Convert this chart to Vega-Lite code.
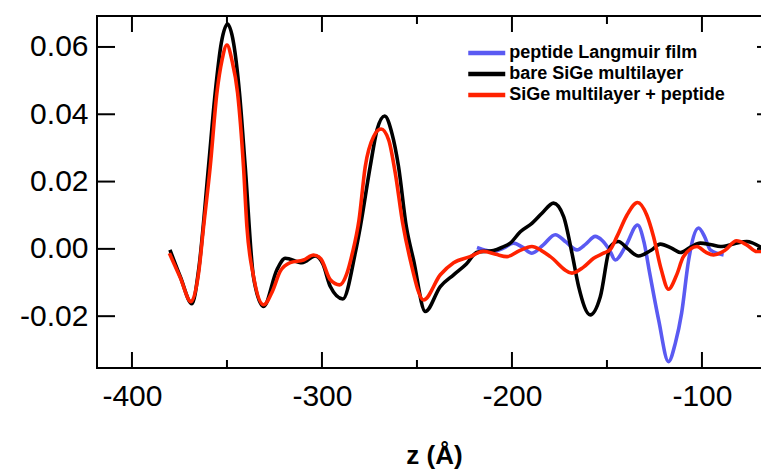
{
  "$schema": "https://vega.github.io/schema/vega-lite/v6.json",
  "width": 678,
  "height": 352,
  "autosize": "none",
  "padding": {"left": 97, "top": 16, "right": 0, "bottom": 103},
  "background": "white",
  "config": {
    "view": {"stroke": "black", "strokeWidth": 2},
    "axis": {"domain": false, "grid": false, "ticks": false, "tickSize": 0, "labelFont": "Liberation Sans", "labelFontSize": 30, "labelColor": "black", "titleFont": "Liberation Sans", "titleColor": "black"}
  },
  "datasets": {
    "curves": [
    {"s": "peptide Langmuir film", "z": -218.4, "v": 0.0004},
    {"s": "peptide Langmuir film", "z": -214, "v": -0.0004},
    {"s": "peptide Langmuir film", "z": -209.7, "v": -0.0008},
    {"s": "peptide Langmuir film", "z": -204.5, "v": 0.0002},
    {"s": "peptide Langmuir film", "z": -199.2, "v": 0.0017},
    {"s": "peptide Langmuir film", "z": -194.5, "v": 0.0005},
    {"s": "peptide Langmuir film", "z": -189.5, "v": -0.0013},
    {"s": "peptide Langmuir film", "z": -183.5, "v": 0.0012},
    {"s": "peptide Langmuir film", "z": -177.2, "v": 0.0042},
    {"s": "peptide Langmuir film", "z": -171.5, "v": 0.002},
    {"s": "peptide Langmuir film", "z": -165.8, "v": -0.0003},
    {"s": "peptide Langmuir film", "z": -161, "v": 0.0015},
    {"s": "peptide Langmuir film", "z": -156.2, "v": 0.0037},
    {"s": "peptide Langmuir film", "z": -152.5, "v": 0.0025},
    {"s": "peptide Langmuir film", "z": -148.7, "v": -0.0003},
    {"s": "peptide Langmuir film", "z": -145.6, "v": -0.0033},
    {"s": "peptide Langmuir film", "z": -140, "v": 0.001},
    {"s": "peptide Langmuir film", "z": -133.9, "v": 0.0071},
    {"s": "peptide Langmuir film", "z": -130.5, "v": 0.002},
    {"s": "peptide Langmuir film", "z": -127.5, "v": -0.0072},
    {"s": "peptide Langmuir film", "z": -122.8, "v": -0.0211},
    {"s": "peptide Langmuir film", "z": -117.6, "v": -0.0335},
    {"s": "peptide Langmuir film", "z": -114, "v": -0.028},
    {"s": "peptide Langmuir film", "z": -110.7, "v": -0.0191},
    {"s": "peptide Langmuir film", "z": -107, "v": -0.0033},
    {"s": "peptide Langmuir film", "z": -101.8, "v": 0.0062},
    {"s": "peptide Langmuir film", "z": -98.5, "v": 0.0035},
    {"s": "peptide Langmuir film", "z": -95.6, "v": -0.0003},
    {"s": "peptide Langmuir film", "z": -88.6, "v": -0.0018},

    {"s": "bare SiGe multilayer", "z": -380, "v": -0.0003},
    {"s": "bare SiGe multilayer", "z": -374.6, "v": -0.0082},
    {"s": "bare SiGe multilayer", "z": -368.4, "v": -0.0163},
    {"s": "bare SiGe multilayer", "z": -364.9, "v": -0.0062},
    {"s": "bare SiGe multilayer", "z": -359.7, "v": 0.0245},
    {"s": "bare SiGe multilayer", "z": -356.2, "v": 0.0463},
    {"s": "bare SiGe multilayer", "z": -353, "v": 0.0611},
    {"s": "bare SiGe multilayer", "z": -349.7, "v": 0.0668},
    {"s": "bare SiGe multilayer", "z": -346.5, "v": 0.0611},
    {"s": "bare SiGe multilayer", "z": -343.4, "v": 0.0463},
    {"s": "bare SiGe multilayer", "z": -340.4, "v": 0.0245},
    {"s": "bare SiGe multilayer", "z": -336, "v": -0.0085},
    {"s": "bare SiGe multilayer", "z": -330.7, "v": -0.0171},
    {"s": "bare SiGe multilayer", "z": -323.7, "v": -0.0062},
    {"s": "bare SiGe multilayer", "z": -319.3, "v": -0.0028},
    {"s": "bare SiGe multilayer", "z": -310.5, "v": -0.0041},
    {"s": "bare SiGe multilayer", "z": -303.5, "v": -0.0021},
    {"s": "bare SiGe multilayer", "z": -299.5, "v": -0.0045},
    {"s": "bare SiGe multilayer", "z": -295.6, "v": -0.0112},
    {"s": "bare SiGe multilayer", "z": -289, "v": -0.0149},
    {"s": "bare SiGe multilayer", "z": -282.5, "v": -0.0013},
    {"s": "bare SiGe multilayer", "z": -279.8, "v": 0.0066},
    {"s": "bare SiGe multilayer", "z": -274.6, "v": 0.0245},
    {"s": "bare SiGe multilayer", "z": -271, "v": 0.0354},
    {"s": "bare SiGe multilayer", "z": -267, "v": 0.0395},
    {"s": "bare SiGe multilayer", "z": -263.2, "v": 0.0344},
    {"s": "bare SiGe multilayer", "z": -259.7, "v": 0.0245},
    {"s": "bare SiGe multilayer", "z": -255.6, "v": 0.0066},
    {"s": "bare SiGe multilayer", "z": -251.8, "v": -0.0033},
    {"s": "bare SiGe multilayer", "z": -245.6, "v": -0.0186},
    {"s": "bare SiGe multilayer", "z": -237.7, "v": -0.0112},
    {"s": "bare SiGe multilayer", "z": -230.7, "v": -0.0077},
    {"s": "bare SiGe multilayer", "z": -224, "v": -0.0045},
    {"s": "bare SiGe multilayer", "z": -218.4, "v": -0.001},
    {"s": "bare SiGe multilayer", "z": -209.7, "v": -0.0005},
    {"s": "bare SiGe multilayer", "z": -205, "v": 0.0005},
    {"s": "bare SiGe multilayer", "z": -200.9, "v": 0.0017},
    {"s": "bare SiGe multilayer", "z": -195.6, "v": 0.0051},
    {"s": "bare SiGe multilayer", "z": -189.5, "v": 0.0076},
    {"s": "bare SiGe multilayer", "z": -184.2, "v": 0.0106},
    {"s": "bare SiGe multilayer", "z": -178.1, "v": 0.0136},
    {"s": "bare SiGe multilayer", "z": -172.8, "v": 0.0096},
    {"s": "bare SiGe multilayer", "z": -168.4, "v": -0.0013},
    {"s": "bare SiGe multilayer", "z": -164.9, "v": -0.0112},
    {"s": "bare SiGe multilayer", "z": -158.8, "v": -0.0196},
    {"s": "bare SiGe multilayer", "z": -153.5, "v": -0.0142},
    {"s": "bare SiGe multilayer", "z": -148.2, "v": 0.0007},
    {"s": "bare SiGe multilayer", "z": -144, "v": 0.0022},
    {"s": "bare SiGe multilayer", "z": -139, "v": 0.0},
    {"s": "bare SiGe multilayer", "z": -133.4, "v": -0.0021},
    {"s": "bare SiGe multilayer", "z": -127, "v": -0.0005},
    {"s": "bare SiGe multilayer", "z": -121.9, "v": 0.0014},
    {"s": "bare SiGe multilayer", "z": -116, "v": 0.0002},
    {"s": "bare SiGe multilayer", "z": -111.4, "v": -0.0011},
    {"s": "bare SiGe multilayer", "z": -106, "v": 0.0005},
    {"s": "bare SiGe multilayer", "z": -100.9, "v": 0.0017},
    {"s": "bare SiGe multilayer", "z": -95, "v": 0.0012},
    {"s": "bare SiGe multilayer", "z": -90.3, "v": 0.0007},
    {"s": "bare SiGe multilayer", "z": -83, "v": 0.0015},
    {"s": "bare SiGe multilayer", "z": -76.4, "v": 0.0022},
    {"s": "bare SiGe multilayer", "z": -68.3, "v": 0.0002},

    {"s": "SiGe multilayer + peptide", "z": -380.3, "v": -0.0013},
    {"s": "SiGe multilayer + peptide", "z": -374.6, "v": -0.0085},
    {"s": "SiGe multilayer + peptide", "z": -368.9, "v": -0.0157},
    {"s": "SiGe multilayer + peptide", "z": -365, "v": -0.0075},
    {"s": "SiGe multilayer + peptide", "z": -362.3, "v": 0.0066},
    {"s": "SiGe multilayer + peptide", "z": -358.8, "v": 0.0245},
    {"s": "SiGe multilayer + peptide", "z": -355.3, "v": 0.0463},
    {"s": "SiGe multilayer + peptide", "z": -352.6, "v": 0.0561},
    {"s": "SiGe multilayer + peptide", "z": -350, "v": 0.0606},
    {"s": "SiGe multilayer + peptide", "z": -347.4, "v": 0.0561},
    {"s": "SiGe multilayer + peptide", "z": -344.4, "v": 0.0463},
    {"s": "SiGe multilayer + peptide", "z": -341.3, "v": 0.0245},
    {"s": "SiGe multilayer + peptide", "z": -339.5, "v": 0.0066},
    {"s": "SiGe multilayer + peptide", "z": -336, "v": -0.0082},
    {"s": "SiGe multilayer + peptide", "z": -330.7, "v": -0.0166},
    {"s": "SiGe multilayer + peptide", "z": -326, "v": -0.0125},
    {"s": "SiGe multilayer + peptide", "z": -322, "v": -0.0067},
    {"s": "SiGe multilayer + peptide", "z": -316.7, "v": -0.0041},
    {"s": "SiGe multilayer + peptide", "z": -309.7, "v": -0.0033},
    {"s": "SiGe multilayer + peptide", "z": -304.4, "v": -0.0018},
    {"s": "SiGe multilayer + peptide", "z": -300.5, "v": -0.003},
    {"s": "SiGe multilayer + peptide", "z": -295.6, "v": -0.0092},
    {"s": "SiGe multilayer + peptide", "z": -290.7, "v": -0.0107},
    {"s": "SiGe multilayer + peptide", "z": -287, "v": -0.0075},
    {"s": "SiGe multilayer + peptide", "z": -284, "v": -0.0013},
    {"s": "SiGe multilayer + peptide", "z": -280.5, "v": 0.0086},
    {"s": "SiGe multilayer + peptide", "z": -277.2, "v": 0.0245},
    {"s": "SiGe multilayer + peptide", "z": -272.8, "v": 0.0334},
    {"s": "SiGe multilayer + peptide", "z": -268.9, "v": 0.0356},
    {"s": "SiGe multilayer + peptide", "z": -264.9, "v": 0.0324},
    {"s": "SiGe multilayer + peptide", "z": -261.4, "v": 0.0225},
    {"s": "SiGe multilayer + peptide", "z": -257.5, "v": 0.0076},
    {"s": "SiGe multilayer + peptide", "z": -253.5, "v": -0.0033},
    {"s": "SiGe multilayer + peptide", "z": -246.5, "v": -0.0152},
    {"s": "SiGe multilayer + peptide", "z": -237.7, "v": -0.0077},
    {"s": "SiGe multilayer + peptide", "z": -230.7, "v": -0.0041},
    {"s": "SiGe multilayer + peptide", "z": -222, "v": -0.0023},
    {"s": "SiGe multilayer + peptide", "z": -215, "v": -0.0007},
    {"s": "SiGe multilayer + peptide", "z": -208.5, "v": -0.0016},
    {"s": "SiGe multilayer + peptide", "z": -202.6, "v": -0.0023},
    {"s": "SiGe multilayer + peptide", "z": -196, "v": -0.0005},
    {"s": "SiGe multilayer + peptide", "z": -189.5, "v": 0.0007},
    {"s": "SiGe multilayer + peptide", "z": -184.5, "v": -0.0005},
    {"s": "SiGe multilayer + peptide", "z": -179.8, "v": -0.0023},
    {"s": "SiGe multilayer + peptide", "z": -168.4, "v": -0.0072},
    {"s": "SiGe multilayer + peptide", "z": -162.5, "v": -0.0055},
    {"s": "SiGe multilayer + peptide", "z": -157, "v": -0.0028},
    {"s": "SiGe multilayer + peptide", "z": -151.5, "v": -0.0012},
    {"s": "SiGe multilayer + peptide", "z": -148.3, "v": -0.0002},
    {"s": "SiGe multilayer + peptide", "z": -144.7, "v": 0.0037},
    {"s": "SiGe multilayer + peptide", "z": -139.5, "v": 0.01},
    {"s": "SiGe multilayer + peptide", "z": -133.9, "v": 0.0138},
    {"s": "SiGe multilayer + peptide", "z": -129, "v": 0.01},
    {"s": "SiGe multilayer + peptide", "z": -125.5, "v": 0.0037},
    {"s": "SiGe multilayer + peptide", "z": -121.5, "v": -0.006},
    {"s": "SiGe multilayer + peptide", "z": -117.6, "v": -0.012},
    {"s": "SiGe multilayer + peptide", "z": -113.5, "v": -0.008},
    {"s": "SiGe multilayer + peptide", "z": -109.7, "v": -0.0023},
    {"s": "SiGe multilayer + peptide", "z": -102.6, "v": 0.0007},
    {"s": "SiGe multilayer + peptide", "z": -98, "v": -0.001},
    {"s": "SiGe multilayer + peptide", "z": -93.9, "v": -0.0018},
    {"s": "SiGe multilayer + peptide", "z": -88, "v": -0.0005},
    {"s": "SiGe multilayer + peptide", "z": -81.8, "v": 0.0024},
    {"s": "SiGe multilayer + peptide", "z": -76.5, "v": 0.0012},
    {"s": "SiGe multilayer + peptide", "z": -71.1, "v": -0.0008},
    {"s": "SiGe multilayer + peptide", "z": -68.3, "v": -0.0008}
    ],
    "xmajor": [{"z": -400}, {"z": -300}, {"z": -200}, {"z": -100}],
    "xminor": [{"z": -350}, {"z": -250}, {"z": -150}],
    "yticks": [{"v": -0.02}, {"v": 0}, {"v": 0.02}, {"v": 0.04}, {"v": 0.06}]
  },
  "resolve": {"axis": {"x": "independent", "y": "independent"}},
  "layer": [
    {
      "data": {"name": "curves"},
      "mark": {"type": "line", "interpolate": "monotone", "strokeWidth": 3.6, "clip": true},
      "encoding": {
        "x": {"field": "z", "type": "quantitative",
          "scale": {"domain": [-418.4, -61.55], "nice": false, "zero": false},
          "axis": {"orient": "bottom", "values": [-400, -300, -200, -100], "labelPadding": 13, "labelExpr": "(datum.value < 0 ? '-' : '') + format(abs(datum.value), 'd')", "title": "z (Å)", "titleFontSize": 26, "titleFontWeight": "bold", "titleY": 95, "titleBaseline": "alphabetic", "titleX": 337}},
        "y": {"field": "v", "type": "quantitative",
          "scale": {"domain": [-0.0354, 0.0692], "nice": false, "zero": false},
          "axis": {"orient": "left", "values": [-0.02, 0, 0.02, 0.04, 0.06], "labelExpr": "(datum.value < -0.000001 ? '-' : '') + format(abs(datum.value), '.2f')", "labelPadding": 9, "title": null}},
        "color": {"field": "s", "type": "nominal",
          "scale": {"domain": ["peptide Langmuir film", "bare SiGe multilayer", "SiGe multilayer + peptide"], "range": ["#5a5af2", "#000000", "#ff2200"]},
          "legend": {"title": null, "orient": "none", "legendX": 378.25, "legendY": 25.5, "symbolType": "M-2,0H2", "symbolSize": 342, "symbolStrokeWidth": 4.5, "labelFont": "Liberation Sans", "labelFontSize": 18, "labelFontWeight": "bold", "labelColor": "black", "labelOffset": 11, "labelLimit": 0, "rowPadding": 0, "padding": 0}}
      }
    },
    {
      "data": {"name": "xmajor"},
      "mark": {"type": "tick", "orient": "vertical", "size": 16, "thickness": 2, "yOffset": -8, "color": "black", "opacity": 1},
      "encoding": {
        "x": {"field": "z", "type": "quantitative", "axis": null},
        "y": {"datum": -0.0354, "type": "quantitative", "axis": null}
      }
    },
    {
      "data": {"name": "xmajor"},
      "mark": {"type": "tick", "orient": "vertical", "size": 16, "thickness": 2, "yOffset": 8, "color": "black", "opacity": 1},
      "encoding": {
        "x": {"field": "z", "type": "quantitative", "axis": null},
        "y": {"datum": 0.0692, "type": "quantitative", "axis": null}
      }
    },
    {
      "data": {"name": "xminor"},
      "mark": {"type": "tick", "orient": "vertical", "size": 8, "thickness": 2, "yOffset": -4, "color": "black", "opacity": 1},
      "encoding": {
        "x": {"field": "z", "type": "quantitative", "axis": null},
        "y": {"datum": -0.0354, "type": "quantitative", "axis": null}
      }
    },
    {
      "data": {"name": "xminor"},
      "mark": {"type": "tick", "orient": "vertical", "size": 8, "thickness": 2, "yOffset": 4, "color": "black", "opacity": 1},
      "encoding": {
        "x": {"field": "z", "type": "quantitative", "axis": null},
        "y": {"datum": 0.0692, "type": "quantitative", "axis": null}
      }
    },
    {
      "data": {"name": "yticks"},
      "mark": {"type": "tick", "orient": "horizontal", "size": 18, "thickness": 2, "xOffset": 9, "color": "black", "opacity": 1},
      "encoding": {
        "x": {"datum": -418.4, "type": "quantitative", "axis": null},
        "y": {"field": "v", "type": "quantitative", "axis": null}
      }
    },
    {
      "data": {"name": "yticks"},
      "mark": {"type": "tick", "orient": "horizontal", "size": 18, "thickness": 2, "xOffset": -9, "color": "black", "opacity": 1},
      "encoding": {
        "x": {"datum": -61.55, "type": "quantitative", "axis": null},
        "y": {"field": "v", "type": "quantitative", "axis": null}
      }
    }
  ]
}
